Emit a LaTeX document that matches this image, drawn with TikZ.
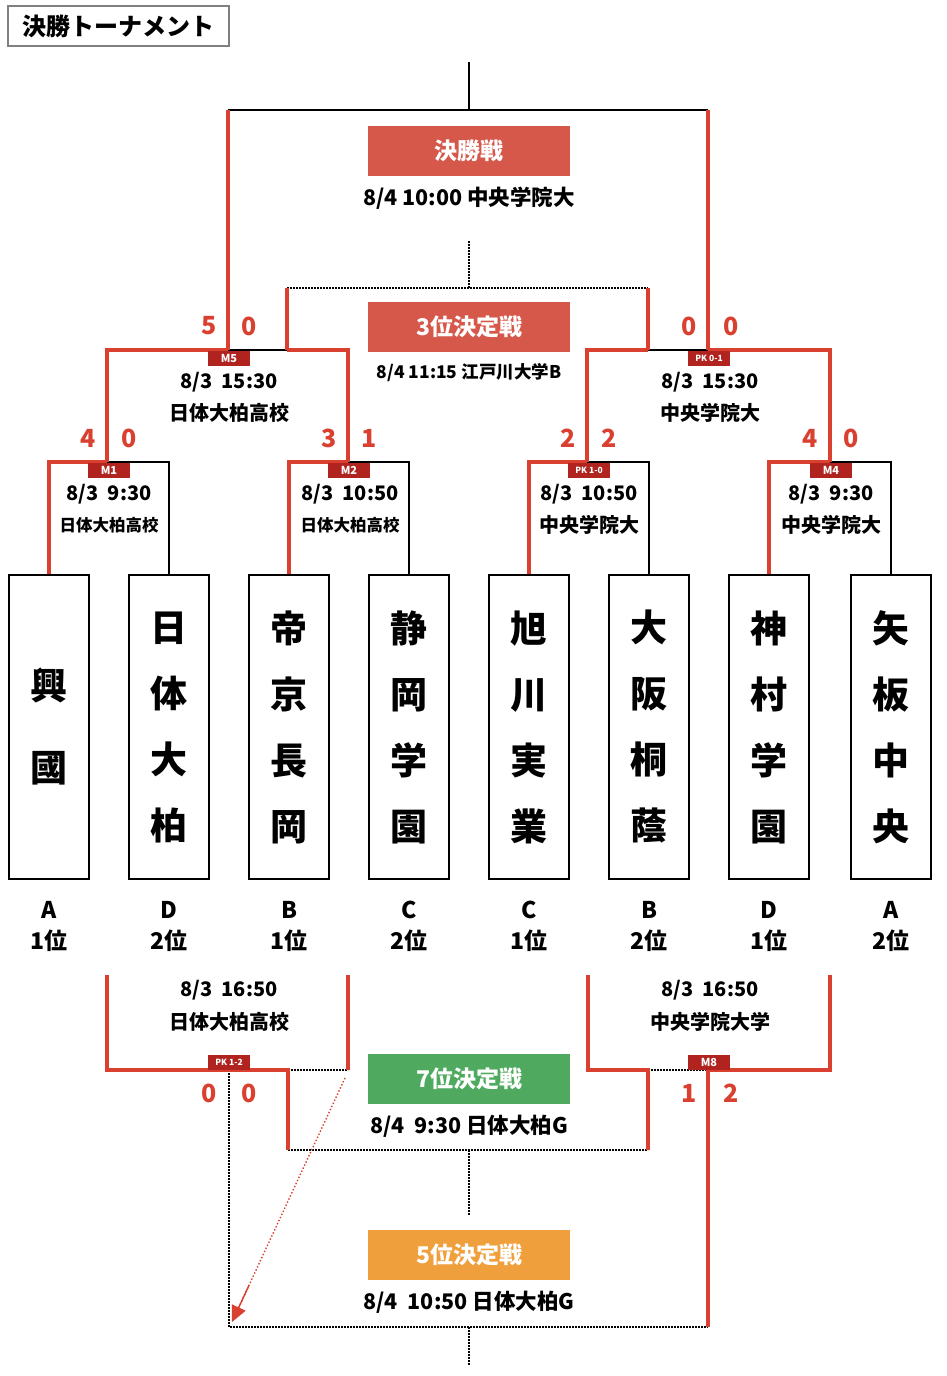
\documentclass[tikz,border=0pt]{standalone}
\usepackage{fontspec}
\setmainfont{Noto Sans CJK JP}
\usetikzlibrary{arrows.meta,calc}
\definecolor{LineRed}{HTML}{D9402F}
\definecolor{FinalRed}{HTML}{D6584A}
\definecolor{TagRed}{HTML}{B0231F}
\definecolor{SevenGreen}{HTML}{4FAA5F}
\definecolor{FiveOrange}{HTML}{EFA03C}
\tikzset{
  win/.style={LineRed, line width=3.5pt},
  pending/.style={black, line width=2.2pt},
  later/.style={black, line width=1.4pt, dash pattern=on 2pt off 1pt},
  pkmove/.style={LineRed, line width=1.4pt, dotted},
  pkhead/.style={LineRed, line width=1.4pt, -{Triangle[length=16pt,width=15pt]}},
  teambox/.style={draw, line width=1.8pt, minimum width=80pt, minimum height=304pt, inner sep=0pt, align=center, font=\bfseries\fontsize{37}{66}\selectfont},
  rank/.style={align=center, font=\bfseries\fontsize{23}{31}\selectfont},
  tag/.style={fill=TagRed, text=white, minimum width=42pt, minimum height=15pt, inner sep=0pt, font=\bfseries\fontsize{11}{11}\selectfont},
  pktag/.style={tag, font=\bfseries\fontsize{8.5}{9}\selectfont},
  score/.style={text=LineRed, font=\bfseries\fontsize{25}{25}\selectfont},
  info/.style={font=\bfseries\fontsize{20}{20}\selectfont},
  stageinfo/.style={font=\bfseries\fontsize{21.5}{22}\selectfont},
  smallinfo/.style={font=\bfseries\fontsize{16.5}{17}\selectfont},
  stage/.style={text=white, minimum width=202pt, minimum height=50pt, inner sep=0pt, font=\bfseries\fontsize{23}{23}\selectfont},
}
\begin{document}
\begin{tikzpicture}[x=1pt, y=-1pt]
        \useasboundingbox (0,0) rectangle (946,1376);
        \node[draw=gray, line width=2pt, minimum width=221pt, minimum height=40pt, font=\bfseries\fontsize{24}{24}\selectfont] (title) at (118.5,26) {決勝トーナメント};

        % teams and group ranks
        \foreach \i/\cx/\nm/\rk in {1/49/{興\\[16pt]國}/{A\\1位}, 2/169/{日\\体\\大\\柏}/{D\\2位},
            3/289/{帝\\京\\長\\岡}/{B\\1位}, 4/409/{静\\岡\\学\\園}/{C\\2位},
            5/529/{旭\\川\\実\\業}/{C\\1位}, 6/649/{大\\阪\\桐\\蔭}/{B\\2位},
            7/769/{神\\村\\学\\園}/{D\\1位}, 8/891/{矢\\板\\中\\央}/{A\\2位}}
        {
            \node[teambox] (t\i) at (\cx,727) {\nm};
            \node[rank] (r\i) at (\cx,926) {\rk};
        }

        \coordinate (m1) at (107,462);
        \coordinate (m2) at (348,462);
        \coordinate (m3) at (587,462);
        \coordinate (m4) at (830,462);
        \coordinate (w5) at (228,350);
        \coordinate (l5) at (287,350);
        \coordinate (l6) at (648,350);
        \coordinate (w6) at (708,350);
        \coordinate (fbar) at (469,110);
        \coordinate (ftop) at (469,62);
        \coordinate (tbar) at (469,288);
        \coordinate (ttop) at (469,240);

        % first round
        \draw[pending] (t2.north) |- (m1);
        \draw[win] (t1.north) |- (m1);
        \draw[pending] (t4.north) |- (m2);
        \draw[win] (t3.north) |- (m2);
        \draw[pending] (t6.north) |- (m3);
        \draw[win] (t5.north) |- (m3);
        \draw[pending] (t8.north) |- (m4);
        \draw[win] (t7.north) |- (m4);

        % semi finals, final, 3rd place
        \draw[pending] (w5) -- (l5);
        \draw[pending] (l6) -- (w6);
        \draw[win] (m1) |- (w5);
        \draw[win] (m2) |- (l5);
        \draw[win] (m3) |- (l6);
        \draw[win] (m4) |- (w6);
        \draw[pending] (w5 |- fbar) -- (w6 |- fbar);
        \draw[pending] (fbar) -- (ftop);
        \draw[win] (w5) -- (w5 |- fbar);
        \draw[win] (w6) -- (w6 |- fbar);
        \draw[later] (l5 |- tbar) -- (l6 |- tbar);
        \draw[later] (tbar) -- (ttop);
        \draw[win] (l5) -- (l5 |- tbar);
        \draw[win] (l6) -- (l6 |- tbar);

        % 5th-8th places
        \coordinate (b1) at (107,975);
        \coordinate (b2) at (348,975);
        \coordinate (b3) at (588,975);
        \coordinate (b4) at (830,975);
        \coordinate (l7) at (288,1070);
        \coordinate (w7) at (229,1070);
        \coordinate (l8) at (648,1070);
        \coordinate (w8) at (708,1070);
        \coordinate (sbar) at (469,1150);
        \coordinate (sbot) at (469,1215);
        \coordinate (vbar) at (469,1327);
        \coordinate (vbot) at (469,1366);
        \draw[later] (l7) -- (b2 |- l7);
        \draw[later] (l8) -- (w8);
        \draw[later] (w7) -- (w7 |- vbar) -- (w8 |- vbar);
        \draw[later] (l7 |- sbar) -- (l8 |- sbar);
        \draw[later] (sbar) -- (sbot);
        \draw[later] (vbar) -- (vbot);
        \draw[win] (b1) |- (l7) -- (l7 |- sbar);
        \draw[win] (b2) -- (b2 |- l7);
        \draw[win] (b3) |- (l8) -- (l8 |- sbar);
        \draw[win] (b4) |- (w8) -- (w8 |- vbar);
        \coordinate (pkfrom) at (345,1078);
        \coordinate (pkto) at (232,1322);
        \draw[pkmove, shorten >=14pt] (pkfrom) -- (pkto);
        \draw[pkhead] ($(pkfrom)!0.85!(pkto)$) -- (pkto);

        % match tags
        \foreach \n/\px/\py/\t in {5/229/358.5/M5, 1/109/470/M1, 2/349/470/M2, 4/831/470/M4, 8/709/1062/M8}
            \node[tag] (tag\n) at (\px,\py) {\t};
        \foreach \n/\px/\py/\t in {6/709/358.5/{PK 0-1}, 3/589/470/{PK 1-0}, 7/229/1062/{PK 1-2}}
            \node[pktag] (tag\n) at (\px,\py) {\t};

        % scores
        \foreach \n/\px/\py/\s in {a5/209/326/5, b5/249/326/0, a6/689/326/0, b6/731/326/0,
            a1/88/438/4, b1/129/438/0, a2/329/438/3, b2/369/438/1,
            a3/568/438/2, b3/609/438/2, a4/810/438/4, b4/851/438/0,
            a7/209/1093/0, b7/249/1093/0, a8/689/1093/1, b8/731/1093/2}
            \node[score] (sc\n) at (\px,\py) {\s};

        % dates and venues
        \foreach \n/\px/\py/\t in {5/229/382/{8/3\ \ 15:30}, 6/710/382/{8/3\ \ 15:30},
            1/109/494/{8/3\ \ 9:30}, 2/350/494/{8/3\ \ 10:50}, 3/589/494/{8/3\ \ 10:50},
            4/831/494/{8/3\ \ 9:30}, 7/229/990/{8/3\ \ 16:50}, 8/710/990/{8/3\ \ 16:50}}
            \node[info] (d\n) at (\px,\py) {\t};
        \foreach \n/\px/\py/\t in {5/229/413/日体大柏高校, 6/710/413/中央学院大,
            3/589/525/中央学院大, 4/831/525/中央学院大, 7/229/1022/日体大柏高校, 8/710/1022/中央学院大学}
            \node[info] (v\n) at (\px,\py) {\t};
        \node[smallinfo] (v1) at (109,525) {日体大柏高校};
        \node[smallinfo] (v2) at (350,525) {日体大柏高校};

        % placing matches
        \node[stage, fill=FinalRed] (final) at (469,151) {決勝戦};
        \node[stageinfo] (finalinfo) at (469,198) {8/4 10:00 中央学院大};
        \node[stage, fill=FinalRed] (third) at (469,327) {3位決定戦};
        \node[smallinfo, font=\bfseries\fontsize{17.5}{18}\selectfont] (thirdinfo) at (469,373) {8/4 11:15 江戸川大学B};
        \node[stage, fill=SevenGreen] (seventh) at (469,1078.5) {7位決定戦};
        \node[stageinfo] (seventhinfo) at (469,1126) {8/4\ \ 9:30 日体大柏G};
        \node[stage, fill=FiveOrange] (fifth) at (469,1254.5) {5位決定戦};
        \node[stageinfo] (fifthinfo) at (469,1302) {8/4\ \ 10:50 日体大柏G};
\end{tikzpicture}
\end{document}
